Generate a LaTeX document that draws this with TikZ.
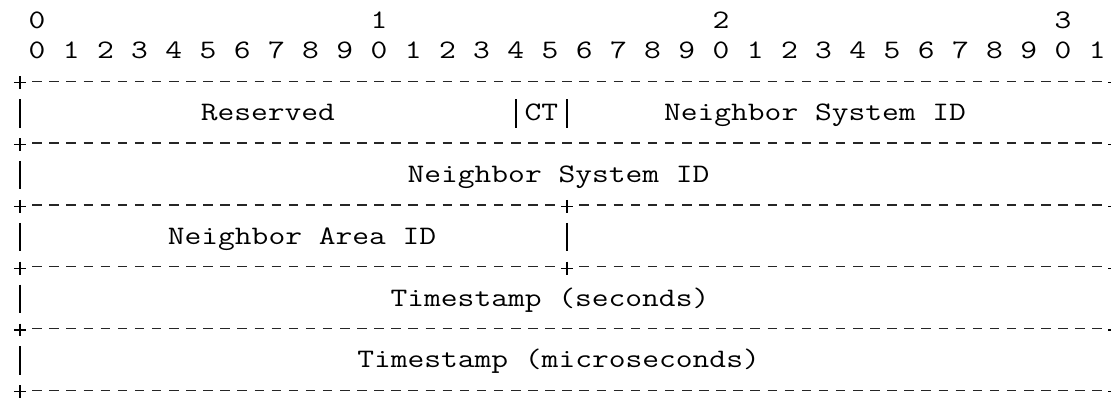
\documentclass[tikz,border=0pt]{standalone}
\usepackage{graphicx}
\newcommand{\wid}[1]{\scalebox{1.2214}[1]{#1}}
\tikzset{
  lbl/.style={inner sep=0pt, outer sep=0pt, anchor=base, font=\fontsize{20}{24}\selectfont\ttfamily, text=black},
  bar/.style={line width=1.05pt, draw=black},
  plusmark/.style={line width=1.0pt, draw=black},
  border/.style={line width=1.1pt, draw=black!85, dash pattern=on 7.125pt off 5.7pt, dash phase=9.975pt},
}
\newcommand{\plusat}[2]{\draw[plusmark] (#1-0.351,#2) -- (#1+0.351,#2) (#1,#2-0.21) -- (#1,#2+0.21);}
\newcommand{\barat}[2]{\draw[bar] (#1,#2-0.47) -- (#1,#2+0.45);}
\begin{document}
\begin{tikzpicture}[x=12.825pt, y=-23.175pt]
\useasboundingbox (-1.1637,-0.6796) rectangle (63.807,12.2006);
\clip (-1.1637,-0.6796) rectangle (63.807,12.2006);
% header numbers
\node[lbl] (h0) at (1,0.227) {\wid{0}};
\node[lbl] (h1) at (21,0.227) {\wid{1}};
\node[lbl] (h2) at (41,0.227) {\wid{2}};
\node[lbl] (h3) at (61,0.227) {\wid{3}};
\foreach \i in {0,...,31}{
  \pgfmathtruncatemacro{\d}{mod(\i,10)}
  \pgfmathtruncatemacro{\c}{2*\i+1}
  \node[lbl] (bit\i) at (\c,1.227) {\wid{\d}};
}
% borders
\foreach \r in {2,4,10,12}{
  \coordinate (L\r) at (0.5,\r-0.05);
  \coordinate (R\r) at (63.5,\r-0.05);
  \draw[border] (L\r) -- (R\r);
  \plusat{0}{\r}
  \plusat{64}{\r}
}
\foreach \r in {6,8}{
  \coordinate (L\r) at (0.5,\r-0.05);
  \coordinate (M\r) at (31.5,\r-0.05);
  \coordinate (N\r) at (32.5,\r-0.05);
  \coordinate (R\r) at (63.5,\r-0.05);
  \draw[border] (L\r) -- (M\r);
  \draw[border] (N\r) -- (R\r);
  \plusat{0}{\r}
  \plusat{32}{\r}
  \plusat{64}{\r}
}
% row 3
\barat{0}{3}\barat{29}{3}\barat{32}{3}\barat{64}{3}
\node[lbl] (reserved) at (14.5,3.227) {\wid{Reserved}};
\node[lbl] (ct) at (30.5,3.227) {\wid{CT}};
\node[lbl] (nsid1) at (46.5,3.227) {\wid{Neighbor System ID}};
% row 5
\barat{0}{5}\barat{64}{5}
\node[lbl] (nsid2) at (31.5,5.227) {\wid{Neighbor System ID}};
% row 7
\barat{0}{7}\barat{32}{7}\barat{64}{7}
\node[lbl] (naid) at (16.5,7.227) {\wid{Neighbor Area ID}};
% row 9
\barat{0}{9}\barat{64}{9}
\node[lbl] (tss) at (31,9.227) {\wid{Timestamp (seconds)}};
% row 11
\barat{0}{11}\barat{64}{11}
\node[lbl] (tsus) at (31.5,11.227) {\wid{Timestamp (microseconds)}};
\end{tikzpicture}
\end{document}
